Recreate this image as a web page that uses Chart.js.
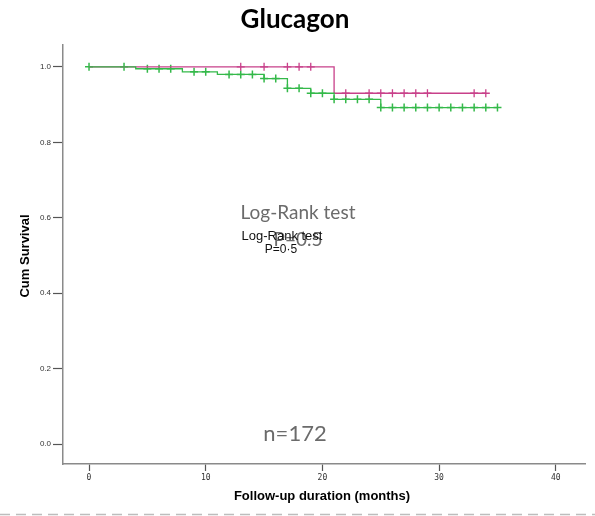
<!DOCTYPE html>
<html>
<head>
<meta charset="utf-8">
<script src="https://cdn.jsdelivr.net/npm/chart.js@4.4.1/dist/chart.umd.min.js"></script>
<style>
  html, body { margin: 0; padding: 0; background: #fff; }
</style>
</head>
<body>
<canvas id="km" width="595" height="516"></canvas>
<script>
// step points of each Kaplan-Meier curve (time in months, cum survival after the step)
const greenTimes = [0, 4, 8, 11, 15, 17, 19, 21, 25, 35];
const greenSurv = [1.0, 0.995, 0.987, 0.980, 0.969, 0.943, 0.930, 0.914, 0.892, 0.892];
const greenCensored = [0, 3, 5, 6, 7, 9, 10, 12, 13, 14, 15, 16, 17, 18, 19, 20, 21, 22, 23, 24, 25, 26, 27, 28, 29, 30, 31, 32, 33, 34, 35];

const pinkTimes = [0, 21, 34];
const pinkSurv = [1.0, 0.930, 0.930];
const pinkCensored = [13, 15, 17, 18, 19, 22, 24, 25, 26, 27, 28, 29, 33, 34];

const xTicks = [0, 10, 20, 30, 40];
const yTicks = [0, 0.2, 0.4, 0.6, 0.8, 1.0];

const GREEN = '#34b94a';
const PINK = '#c8408a';

// survival level of a curve at time t
function survAt(times, surv, t) {
  let s = surv[0];
  for (let i = 0; i < times.length; i++) {
    if (times[i] <= t) s = surv[i];
  }
  return s;
}

const curve = (times, surv) => times.map((t, i) => ({ x: t, y: surv[i] }));
const marks = (cens, times, surv) => cens.map(t => ({ x: t, y: survAt(times, surv, t) }));

// texts that are not part of chart.js (title, axis titles, notes)
const textPlugin = {
  id: 'texts',
  afterDraw(chart) {
    const c = chart.ctx;
    c.save();
    c.textAlign = 'center';
    c.textBaseline = 'middle';

    c.fillStyle = '#000';
    c.font = 'bold 26px Lato';
    c.fillText('Glucagon', 295, 20);

    c.font = 'bold 13px "Liberation Sans"';
    c.fillText('Follow-up duration (months)', 322, 496);
    c.save();
    c.translate(25, 256);
    c.rotate(-Math.PI / 2);
    c.fillText('Cum Survival', 0, 0);
    c.restore();

    c.fillStyle = '#6b6b6b';
    c.font = '19px Lato';
    c.fillText('Log-Rank test', 298, 213);
    c.fillText('P=0.5', 298, 240);
    c.font = '22px Lato';
    c.fillText('n=172', 295, 434);

    c.fillStyle = '#111';
    c.font = '13px "Liberation Sans"';
    c.fillText('Log-Rank test', 282, 236);
    c.font = '12px "Liberation Sans"';
    c.fillText('P=0·5', 281, 250);

    // dashed separator at the bottom
    c.strokeStyle = '#bdbdbd';
    c.lineWidth = 1.5;
    c.setLineDash([10, 6]);
    c.beginPath();
    c.moveTo(0, 514.5);
    c.lineTo(595, 514.5);
    c.stroke();
    c.restore();
  }
};

new Chart(document.getElementById('km'), {
  type: 'scatter',
  data: {
    datasets: [
      {
        data: curve(greenTimes, greenSurv),
        showLine: true,
        stepped: true,
        borderColor: GREEN,
        borderWidth: 1.3,
        pointRadius: 0
      },
      {
        data: curve(pinkTimes, pinkSurv),
        showLine: true,
        stepped: true,
        borderColor: PINK,
        borderWidth: 1.3,
        pointRadius: 0
      },
      {
        data: marks(pinkCensored, pinkTimes, pinkSurv),
        showLine: false,
        pointStyle: 'cross',
        pointRadius: 4,
        borderColor: PINK,
        borderWidth: 1.3
      },
      {
        data: marks(greenCensored, greenTimes, greenSurv),
        showLine: false,
        pointStyle: 'cross',
        pointRadius: 4,
        borderColor: GREEN,
        borderWidth: 1.5
      }
    ]
  },
  options: {
    responsive: false,
    animation: false,
    devicePixelRatio: 1,
    layout: { padding: { top: 45, left: 10, right: 10, bottom: 0 } },
    plugins: { legend: { display: false }, tooltip: { enabled: false } },
    scales: {
      x: {
        type: 'linear',
        min: -2.23,
        max: 42.5,
        afterBuildTicks: s => { s.ticks = xTicks.map(v => ({ value: v })); },
        afterFit: s => { s.height = 52; },
        grid: { drawOnChartArea: false, tickLength: 7, tickColor: '#555', tickWidth: 1.2 },
        border: { color: '#8a8a8a', width: 1.5 },
        ticks: { color: '#333', font: { size: 8, family: 'DejaVu Sans Mono' }, padding: 2, maxRotation: 0 }
      },
      y: {
        type: 'linear',
        min: -0.053,
        max: 1.058,
        afterBuildTicks: s => { s.ticks = yTicks.map(v => ({ value: v })); },
        afterFit: s => { s.width = 53; },
        grid: { drawOnChartArea: false, tickLength: 10, tickColor: '#555', tickWidth: 1.2 },
        border: { color: '#8a8a8a', width: 1.5 },
        ticks: { color: '#333', font: { size: 8, family: 'Liberation Sans' }, padding: 2, callback: v => v.toFixed(1) }
      }
    }
  },
  plugins: [textPlugin]
});
</script>
</body>
</html>
